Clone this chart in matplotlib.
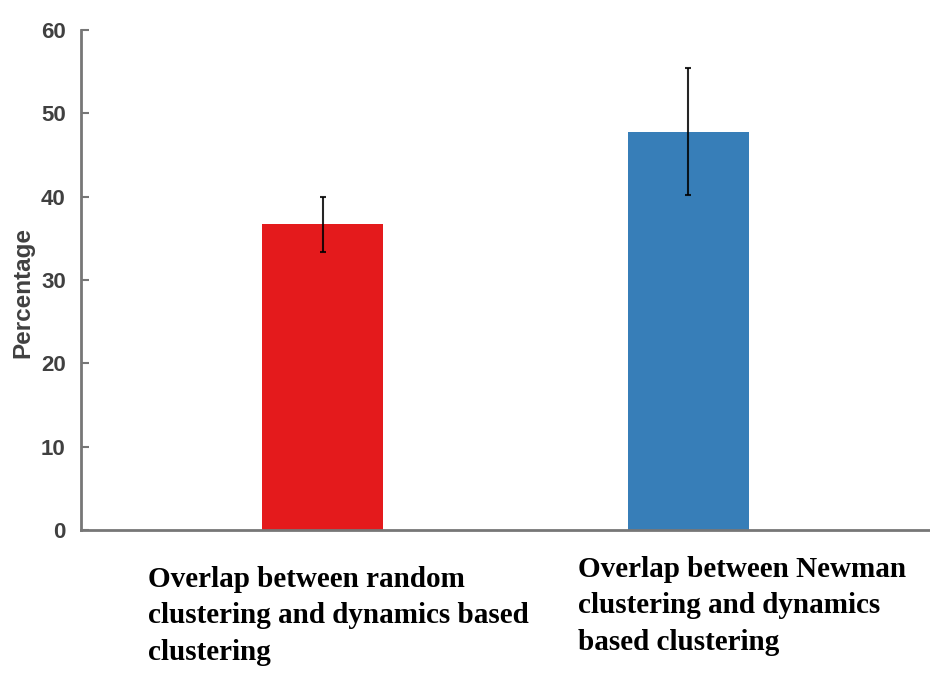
import matplotlib
matplotlib.use("Agg")
import matplotlib.pyplot as plt

categories = ["Overlap between random\nclustering and dynamics based\nclustering",
              "Overlap between Newman\nclustering and dynamics\nbased clustering"]
values = [36.7, 47.8]
errors = [3.3, 7.6]
colors = ["#E41A1C", "#377EB8"]
yticks = [0, 10, 20, 30, 40, 50, 60]

fig = plt.figure(figsize=(9.3, 6.88), dpi=100)
ax = fig.add_axes([81/930, 1-530/688, 1-81/930, (530-30)/688])

x = [1, 2]
ax.bar(x, values, width=0.333, color=colors, zorder=2)
ax.errorbar(x, values, yerr=errors, fmt='none', ecolor='black', elinewidth=1.5,
            capsize=2, capthick=1.5, alpha=0.85, zorder=3)

ax.set_xlim(0.34, 2.66)
ax.set_ylim(0, 60)
ax.set_yticks(yticks)
ax.set_yticklabels([str(t) for t in yticks], fontsize=16, fontweight='bold',
                   color='#404040', family='Liberation Sans')
ax.tick_params(axis='y', direction='in', length=6, width=1.5, color='#777777', pad=11)
ax.set_xticks([])
for s in ['top', 'right']:
    ax.spines[s].set_visible(False)
for s in ['left', 'bottom']:
    ax.spines[s].set_color('#777777')
    ax.spines[s].set_linewidth(2)

fig.text(23/930, 1-292/688, "Percentage", rotation=90, ha='center', va='center',
         fontsize=17.5, fontweight='bold', color='#404040', family='Liberation Sans')

label_pos = [(148/930, 1-566/688), (578/930, 1-556/688)]
for (lx, ly), lab in zip(label_pos, categories):
    fig.text(lx, ly, lab, ha='left', va='top', fontsize=21, fontweight='bold',
             family='Liberation Serif', color='black', linespacing=1.45,
             multialignment='left')

fig.savefig("out.png", dpi=100)
